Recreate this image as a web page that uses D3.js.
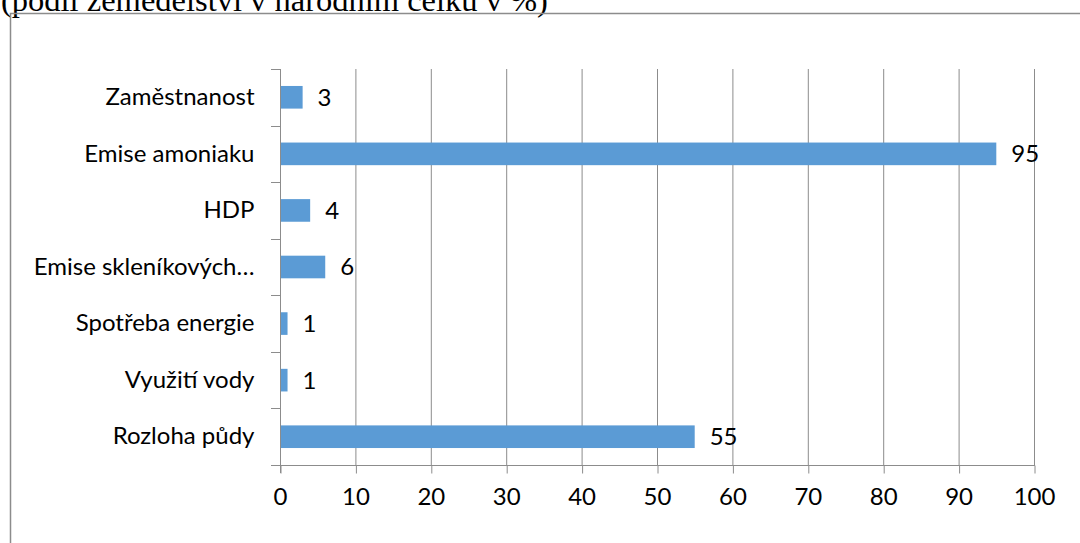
<!DOCTYPE html>
<html><head><meta charset="utf-8">
<script src="https://cdn.jsdelivr.net/npm/d3@7"></script>
<style>
html,body{margin:0;padding:0;background:#fff;overflow:hidden;}
svg{display:block;}
</style></head>
<body>
<svg id="chart" width="1080" height="543"></svg>
<script>
const title = "(podíl zemědělství v národním celku v %)";
const categories = ["Zaměstnanost","Emise amoniaku","HDP","Emise skleníkových…","Spotřeba energie","Využití vody","Rozloha půdy"];
const values = [3,95,4,6,1,1,55];
const xTicks = [0,10,20,30,40,50,60,70,80,90,100];

const svg = d3.select("#chart");
const W = 1080, H = 543;
const m = {left:280, right:46, top:69, bottom:78};
const font = "Lato, 'Open Sans', sans-serif";
const fs = 24;

// title (clipped at top, as in the reference)
svg.append("text").attr("x",1).attr("y",11)
  .attr("font-family","'Liberation Serif','Times New Roman',serif")
  .attr("font-size",32.5).attr("fill","#000").text(title);

// border frame
svg.append("rect").attr("x",10.5).attr("y",13.5).attr("width",1100).attr("height",600)
  .attr("fill","none").attr("stroke","#8c8c8c").attr("stroke-width",1.5);

const x = d3.scaleLinear().domain([0,100]).range([m.left, W-m.right]);
const y = d3.scaleBand().domain(categories).range([m.top, H-m.bottom]).paddingInner(0.6).paddingOuter(0.3);

// gridlines
svg.append("g").selectAll("line").data(xTicks.slice(1)).join("line")
  .attr("x1",d=>x(d)+0.5).attr("x2",d=>x(d)+0.5)
  .attr("y1",m.top).attr("y2",H-m.bottom)
  .attr("stroke","#8c8c8c").attr("stroke-width",1);

// bars
svg.append("g").selectAll("rect").data(values).join("rect")
  .attr("x",x(0)).attr("y",(d,i)=>y(categories[i]))
  .attr("width",d=>x(d)-x(0)).attr("height",y.bandwidth())
  .attr("fill","#5B9BD5");

// x axis
const xAxis = d3.axisBottom(x).tickValues(xTicks).tickSize(8).tickPadding(14).tickFormat(d3.format("d"));
const gx = svg.append("g").attr("transform",`translate(0,${H-m.bottom+0.5})`).call(xAxis);
gx.select(".domain").remove();
gx.append("line").attr("x1",m.left-9).attr("x2",x(100)+1).attr("y1",0).attr("y2",0).attr("stroke","#8c8c8c");
gx.selectAll(".tick line").attr("stroke","#8c8c8c").attr("transform","translate(0.5,0)");
gx.selectAll(".tick text").attr("font-family",font).attr("font-size",fs).attr("fill","#000");

// y axis
const yAxis = d3.axisLeft(y).tickSize(0).tickPadding(26);
const gy = svg.append("g").attr("transform",`translate(${m.left+0.5},0)`).call(yAxis);
gy.select(".domain").attr("stroke","#8c8c8c").attr("d",`M0,${m.top}V${H-m.bottom+8}`);
gy.selectAll(".tick text").attr("font-family",font).attr("font-size",fs).attr("fill","#000");
// category boundary ticks
const bounds = d3.range(categories.length+1).map(i=>m.top + i*(H-m.top-m.bottom)/categories.length);
svg.append("g").selectAll("line").data(bounds).join("line")
  .attr("x1",m.left-9).attr("x2",m.left).attr("y1",d=>Math.round(d)+0.5).attr("y2",d=>Math.round(d)+0.5)
  .attr("stroke","#8c8c8c");

// value labels
svg.append("g").selectAll("text").data(values).join("text")
  .attr("x",d=>x(d)+15).attr("y",(d,i)=>y(categories[i])+y.bandwidth()/2)
  .attr("dy","0.35em").attr("font-family",font).attr("font-size",fs).attr("fill","#000")
  .text(d=>d);
</script>
</body></html>
